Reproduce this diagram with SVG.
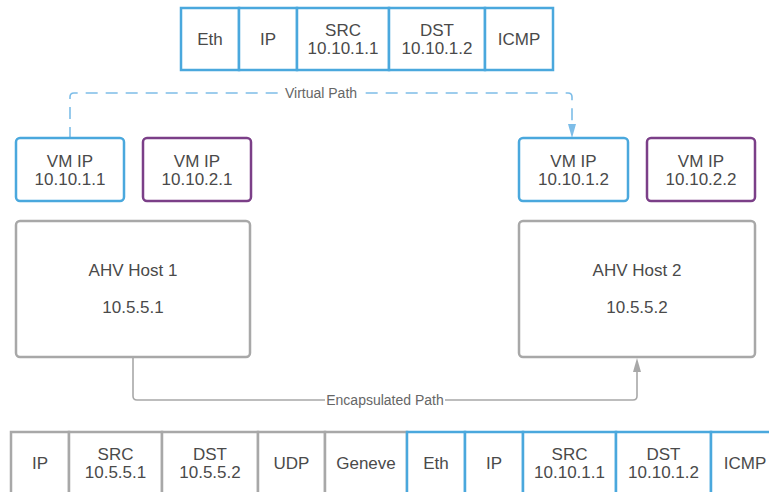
<svg xmlns="http://www.w3.org/2000/svg" width="769" height="492" viewBox="0 0 769 492">
<defs>
<style>
.t{font-family:"Liberation Sans",Arial,sans-serif;font-size:17px;fill:#4a4a4a;text-anchor:middle}
.s{font-family:"Liberation Sans",Arial,sans-serif;font-size:14px;fill:#666;text-anchor:middle}
.b{fill:#fff;stroke:#4aa8dd;stroke-width:2.5}
.p{fill:#fff;stroke:#7b3f88;stroke-width:2.5}
.g{fill:#fff;stroke:#a8a8a8;stroke-width:2.5}
</style>
</defs>
<rect width="769" height="492" fill="#fff"/>

<g id="top-packet">
<rect class="b" x="181" y="8" width="58" height="62"/>
<rect class="b" x="239" y="8" width="58" height="62"/>
<rect class="b" x="297" y="8" width="92" height="62"/>
<rect class="b" x="389" y="8" width="96" height="62"/>
<rect class="b" x="485" y="8" width="68" height="62"/>
<text class="t" x="210" y="45">Eth</text>
<text class="t" x="268" y="45">IP</text>
<text class="t" x="343" y="36">SRC</text>
<text class="t" x="343" y="54">10.10.1.1</text>
<text class="t" x="437" y="36">DST</text>
<text class="t" x="437" y="54">10.10.1.2</text>
<text class="t" x="519" y="45">ICMP</text>
</g>

<g id="connectors">
<path d="M70,139 V97 Q70,93 74,93 H568 Q572,93 572,97 V124" fill="none" stroke="#7dbde8" stroke-width="1.6" stroke-dasharray="12,8"/>
<path d="M568,124 L576,124 L572,138 Z" fill="#7dbde8"/>
<rect x="283" y="84" width="76" height="18" fill="#fff"/>
<text class="s" x="321" y="98">Virtual Path</text>
<path d="M133,358 V396 Q133,400 137,400 H633 Q637,400 637,396 V371" fill="none" stroke="#a8a8a8" stroke-width="1.6"/>
<path d="M633,372 L641,372 L637,358 Z" fill="#a8a8a8"/>
<rect x="325" y="391" width="120" height="18" fill="#fff"/>
<text class="s" x="385" y="405">Encapsulated Path</text>
</g>

<g id="vm1">
<rect class="b" x="16" y="138" width="108" height="63" rx="4"/>
<text class="t" x="70" y="167">VM IP</text>
<text class="t" x="70" y="185">10.10.1.1</text>
</g>
<g id="vm2">
<rect class="p" x="143" y="138" width="108" height="63" rx="4"/>
<text class="t" x="197" y="167">VM IP</text>
<text class="t" x="197" y="185">10.10.2.1</text>
</g>
<g id="vm3">
<rect class="b" x="519" y="138" width="109" height="63" rx="4"/>
<text class="t" x="573.5" y="167">VM IP</text>
<text class="t" x="573.5" y="185">10.10.1.2</text>
</g>
<g id="vm4">
<rect class="p" x="647" y="138" width="108" height="63" rx="4"/>
<text class="t" x="701" y="167">VM IP</text>
<text class="t" x="701" y="185">10.10.2.2</text>
</g>

<g id="host1">
<rect class="g" x="16" y="221" width="234" height="136" rx="4"/>
<text class="t" x="133" y="276">AHV Host 1</text>
<text class="t" x="133" y="313">10.5.5.1</text>
</g>
<g id="host2">
<rect class="g" x="519" y="221" width="236" height="136" rx="4"/>
<text class="t" x="637" y="276">AHV Host 2</text>
<text class="t" x="637" y="313">10.5.5.2</text>
</g>

<g id="bottom-packet">
<rect class="g" x="11" y="432" width="58" height="70"/>
<rect class="g" x="69" y="432" width="93" height="70"/>
<rect class="g" x="162" y="432" width="96" height="70"/>
<rect class="g" x="258" y="432" width="67" height="70"/>
<rect class="g" x="325" y="432" width="82" height="70"/>
<rect class="b" x="407" y="432" width="58" height="70"/>
<rect class="b" x="465" y="432" width="58" height="70"/>
<rect class="b" x="523" y="432" width="93" height="70"/>
<rect class="b" x="616" y="432" width="95" height="70"/>
<rect class="b" x="711" y="432" width="68" height="70"/>
<text class="t" x="40" y="469">IP</text>
<text class="t" x="115.5" y="460">SRC</text>
<text class="t" x="115.5" y="478">10.5.5.1</text>
<text class="t" x="210" y="460">DST</text>
<text class="t" x="210" y="478">10.5.5.2</text>
<text class="t" x="291.5" y="469">UDP</text>
<text class="t" x="366" y="469">Geneve</text>
<text class="t" x="436" y="469">Eth</text>
<text class="t" x="494" y="469">IP</text>
<text class="t" x="569.5" y="460">SRC</text>
<text class="t" x="569.5" y="478">10.10.1.1</text>
<text class="t" x="663.5" y="460">DST</text>
<text class="t" x="663.5" y="478">10.10.1.2</text>
<text class="t" x="745" y="469">ICMP</text>
</g>
</svg>
